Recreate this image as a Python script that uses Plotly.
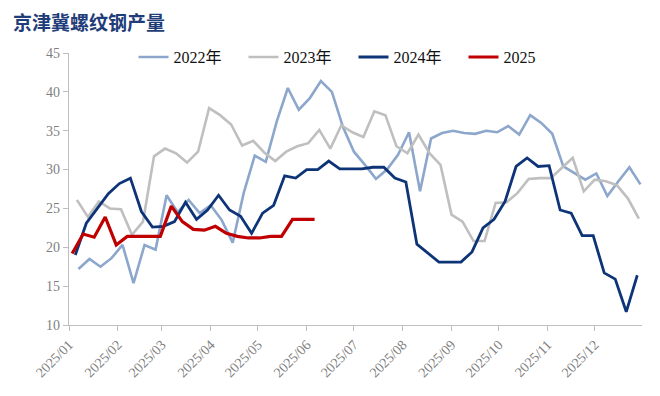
import pandas as pd
import plotly.graph_objects as go

title_text = "京津冀螺纹钢产量"
series_names = ["2022年", "2023年", "2024年", "2025"]
start_dates = ["2025-01-07", "2025-01-06", "2025-01-05", "2025-01-03"]

v2022 = [17.2, 18.5, 17.5, 18.6, 20.3, 15.4, 20.3, 19.7, 26.7, 24.5,
         26.1, 24.4, 25.4, 23.5, 20.6, 27.0, 31.8, 31.0, 36.2, 40.5,
         37.7, 39.2, 41.4, 40.0, 35.5, 32.3, 30.6, 28.8, 30.0, 31.9,
         34.8, 27.2, 34.0, 34.7, 35.0, 34.7, 34.6, 35.0, 34.8, 35.6,
         34.5, 37.0, 36.0, 34.6, 30.4, 29.5, 28.7, 29.5, 26.6, 28.5,
         30.3, 28.1]
v2023 = [26.1, 23.9, 25.9, 25.0, 24.9, 21.6, 23.3, 31.7, 32.7, 32.1,
         30.9, 32.3, 37.9, 37.0, 35.8, 33.1, 33.7, 32.2, 31.1, 32.3,
         33.0, 33.4, 35.1, 32.7, 35.7, 34.8, 34.2, 37.5, 37.0, 33.0,
         32.1, 34.5, 32.1, 30.6, 24.2, 23.3, 20.8, 20.8, 25.7, 25.8,
         27.0, 28.8, 28.9, 28.9, 30.2, 31.5, 27.2, 28.7, 28.5, 28.0,
         26.3, 23.7]
v2024 = [19.0, 23.1, 25.0, 26.9, 28.2, 28.9, 24.6, 22.6, 22.7, 23.3,
         25.8, 23.6, 24.8, 26.7, 24.8, 24.0, 21.8, 24.4, 25.4, 29.2,
         28.9, 30.0, 30.0, 31.1, 30.1, 30.1, 30.1, 30.3, 30.3, 28.9,
         28.4, 20.4, 19.2, 18.1, 18.1, 18.1, 19.4, 22.5, 23.6, 25.9,
         30.4, 31.5, 30.4, 30.5, 24.8, 24.4, 21.5, 21.5, 16.7, 15.9,
         11.7, 16.4]
v2025 = [19.2, 21.7, 21.3, 23.9, 20.3, 21.4, 21.4, 21.4, 21.4, 25.3,
         23.3, 22.3, 22.2, 22.7, 21.8, 21.4, 21.2, 21.2, 21.4, 21.4,
         23.6, 23.6, 23.6]

y_ticks = [10, 15, 20, 25, 30, 35, 40, 45]

values = [v2022, v2023, v2024, v2025]
colors = ["#8CA6CC", "#BFBFBF", "#0E3478", "#C00000"]
widths = [2.6, 2.6, 2.8, 3.2]

serif = "Liberation Serif, Times New Roman, Noto Sans CJK SC, serif"

fig = go.Figure()
for name, start, vals, col, w in zip(series_names, start_dates, values, colors, widths):
    xs = pd.date_range(start=start, periods=len(vals), freq="7D")
    fig.add_trace(go.Scatter(x=xs, y=vals, name=name, mode="lines",
                             line=dict(color=col, width=w)))

fig.update_layout(
    width=652, height=388,
    margin=dict(l=61, r=18, t=45, b=71, autoexpand=False),
    paper_bgcolor="white", plot_bgcolor="white",
    showlegend=True,
    legend=dict(orientation="h", x=0.4965, xanchor="center", y=0.985, yanchor="middle",
                font=dict(family=serif, size=16, color="#111111"),
                entrywidth=65, entrywidthmode="pixels",
                bgcolor="rgba(0,0,0,0)", traceorder="normal", itemwidth=30),
    annotations=[dict(text="<b>" + title_text + "</b>", xref="paper", yref="paper",
                      x=-0.100, y=1.114, xanchor="left", yanchor="middle", showarrow=False,
                      borderpad=0,
                      font=dict(family="Noto Sans CJK SC", size=19, color="#1F3D78"))],
)
fig.update_xaxes(
    type="date", range=["2025-01-01", "2025-12-31"], automargin=False,
    tick0="2025-01-01", dtick="M1", tickformat="%Y/%m", tickangle=-45,
    showline=True, linecolor="#BFBFBF", linewidth=1.2,
    ticks="outside", ticklen=5, tickcolor="#BFBFBF",
    showgrid=False, zeroline=False,
    tickfont=dict(family=serif, size=14, color="#7F7F7F"),
)
fig.update_yaxes(
    range=[10, 45], tickvals=y_ticks, ticktext=[str(t) for t in y_ticks], automargin=False,
    showline=True, linecolor="#BFBFBF", linewidth=1.2,
    ticks="outside", ticklen=5, tickcolor="#BFBFBF",
    showgrid=False, zeroline=False,
    tickfont=dict(family=serif, size=14, color="#7F7F7F"),
)

fig.write_html("out.html")
